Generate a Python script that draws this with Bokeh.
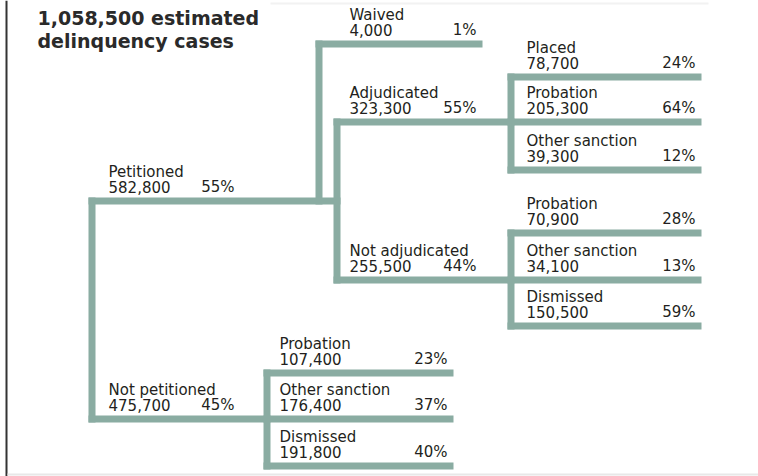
from bokeh.plotting import figure
from bokeh.models import Range1d
from bokeh.core.properties import value
from bokeh.embed import file_html
from bokeh.resources import INLINE

# ---------------- data ----------------
TOTAL = 1058500
title_lines = [f"{TOTAL:,} estimated", "delinquency cases"]

labels = ["Petitioned", "Not petitioned", "Waived", "Adjudicated", "Not adjudicated",
          "Placed", "Probation", "Other sanction",
          "Probation", "Other sanction", "Dismissed",
          "Probation", "Other sanction", "Dismissed"]
cases = [582800, 475700, 4000, 323300, 255500,
         78700, 205300, 39300,
         70900, 34100, 150500,
         107400, 176400, 191800]
percents = [55, 45, 1, 55, 44,
            24, 64, 12,
            28, 13, 59,
            23, 37, 40]
parent = [-1, -1, 0, 0, 0,
          3, 3, 3,
          4, 4, 4,
          1, 1, 1]

# ---------------- layout (page pixels) ----------------
T = 7  # line thickness
columns = {
    "L1": dict(stem=88, label=108, pct=234),
    "W": dict(stem=315, label=349, pct=476, end=482),
    "A": dict(stem=333, label=349, pct=476),
    "R": dict(stem=507, label=526, pct=695, end=701),
    "N": dict(stem=263, label=279, pct=447, end=453),
}
node_col = ["L1", "L1", "W", "A", "A", "R", "R", "R", "R", "R", "R", "N", "N", "N"]
line_top = [197, 415, 40, 118, 276, 73, 118, 166, 229, 276, 322, 369, 415, 462]

LINE_COLOR = "#8aaca2"
TEXT_COLOR = "#231f20"
FONT = "DejaVu Sans"
W, H = 758, 476

p = figure(width=W, height=H, x_range=Range1d(0, W), y_range=Range1d(H, 0),
           output_backend="svg", toolbar_location=None, min_border=0)
p.axis.visible = False
p.grid.visible = False
p.outline_line_color = None
p.background_fill_color = "white"

n = len(labels)
stems = [columns[c]["stem"] for c in node_col]

# horizontal lines
h_l, h_r, h_t, h_b = [], [], [], []
for i in range(n):
    kids = [j for j in range(n) if parent[j] == i]
    if kids:
        end = max(stems[j] for j in kids) + T
    else:
        end = columns[node_col[i]]["end"]
    h_l.append(stems[i]); h_r.append(end)
    h_t.append(line_top[i]); h_b.append(line_top[i] + T)

# vertical stems
groups = {}
for j in range(n):
    groups.setdefault((parent[j], stems[j]), []).append(j)
v_l, v_r, v_t, v_b = [], [], [], []
for (par, sx), kids in groups.items():
    tops = [line_top[j] for j in kids]
    if par >= 0:
        tops.append(line_top[par])
    v_l.append(sx); v_r.append(sx + T)
    v_t.append(min(tops)); v_b.append(max(tops) + T)

p.quad(left=h_l, right=h_r, top=h_t, bottom=h_b, color=LINE_COLOR, line_color=None)
p.quad(left=v_l, right=v_r, top=v_t, bottom=v_b, color=LINE_COLOR, line_color=None)

# frame lines
p.quad(left=[5], right=[7], top=[0], bottom=[H], color="#333333", line_color=None)
p.quad(left=[7], right=[W], top=[473], bottom=[475], color="#e8e8e8", line_color=None)
p.quad(left=[270], right=[708], top=[2], bottom=[4], color="#f2f2f2", line_color=None)

# texts (baseline offsets compensated)
lx = [columns[c]["label"] for c in node_col]
px = [columns[c]["pct"] for c in node_col]
common = dict(text_font=value(FONT), text_font_size="15px", text_color=TEXT_COLOR,
              text_baseline="alphabetic")
p.text(x=lx, y=[t - 26 for t in line_top], text=labels, text_align="left", **common)
p.text(x=lx, y=[t - 10.5 for t in line_top], text=[f"{c:,}" for c in cases],
       text_align="left", **common)
p.text(x=px, y=[t - 10.5 for t in line_top], text=[f"{v}%" for v in percents],
       text_align="right", **common)

# title
p.text(x=[37, 37], y=[17, 40], text=title_lines,
       text_font=value(FONT), text_font_size="19px", text_font_style="bold",
       text_color="#2a2a2a", text_baseline="alphabetic", text_align="left")

open("out.html", "w").write(file_html(p, INLINE))
